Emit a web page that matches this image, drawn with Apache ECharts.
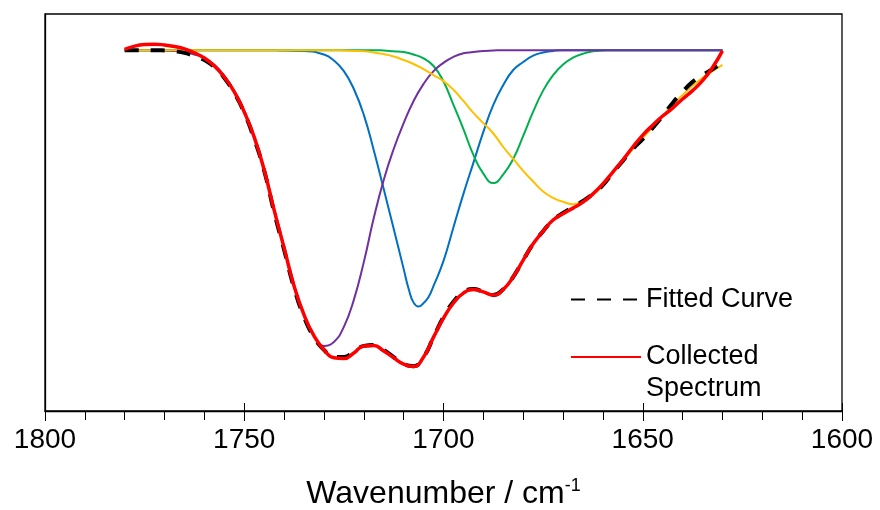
<!DOCTYPE html>
<html>
<head>
<meta charset="utf-8">
<script src="https://cdn.jsdelivr.net/npm/echarts@6/dist/echarts.min.js"></script>
<style>html,body{margin:0;padding:0;background:#fff}#chart{width:880px;height:510px}</style>
</head>
<body>
<div id="chart"></div>
<script>
// Wavenumber grid (cm-1), 1780 down to 1630 in 2.5 steps
var wavenumbers = [];
for (var w = 1780; w >= 1629.9; w -= 2.5) wavenumbers.push(+w.toFixed(1));

var xTicks = [1600, 1650, 1700, 1750, 1800];

// Collected spectrum (red)
var collected = [91.1, 91.9, 92.3, 92.4, 92.2, 91.8, 91.2, 90.2, 88.9, 86.9,
  84.1, 80.4, 75.3, 69.0, 60.7, 50.6, 41.1, 31.5, 24.2, 18.9,
  15.4, 13.4, 13.2, 14.6, 16.4, 16.5, 15.1, 13.4, 11.8, 11.2,
  13.6, 18.6, 23.4, 27.2, 29.7, 30.6, 30.0, 29.2, 30.6, 33.8,
  38.0, 42.1, 45.3, 48.1, 49.7, 51.1, 52.6, 54.7, 57.2, 60.2,
  63.2, 66.5, 69.5, 72.0, 74.3, 76.3, 78.6, 80.7, 83.2, 86.5, 90.7];

// Fitted curve (black dashed)
var fitted = [90.9, 90.9, 90.9, 90.9, 90.8, 90.6, 90.2, 89.4, 88.4, 86.6,
  83.9, 80.1, 75.1, 68.5, 60.5, 50.1, 40.6, 31.0, 23.7, 18.6,
  15.4, 13.6, 13.6, 14.9, 16.4, 16.6, 15.4, 13.6, 11.8, 11.3,
  13.6, 18.6, 23.7, 27.5, 30.0, 30.7, 30.0, 29.2, 30.7, 33.8,
  38.0, 42.1, 45.3, 48.1, 49.9, 51.4, 52.9, 54.7, 56.9, 60.0,
  63.0, 66.0, 68.5, 71.3, 74.3, 77.6, 80.4, 82.9, 84.6, 86.1, 87.7];

// Component bands
var band1730 = [90.9, 90.9, 90.9, 90.9, 90.8, 90.7, 90.4, 89.8, 88.9, 87.2,
  84.4, 80.6, 75.6, 69.0, 61.0, 50.9, 41.3, 31.7, 24.4, 19.1,
  16.4, 17.4, 21.2, 28.0, 37.5, 48.6, 58.2, 66.0, 72.5, 78.1,
  82.4, 85.6, 87.7, 89.2, 90.1, 90.4, 90.7, 90.8, 90.9, 90.9,
  90.9, 90.9, 90.9, 90.9, 90.9, 90.9, 90.9, 90.9, 90.9, 90.9,
  90.9, 90.9, 90.9, 90.9, 90.9, 90.9, 90.9, 90.9, 90.9, 90.9, 90.9];

// Band at ~1707 has its own, finer sampling around its minimum
var wavenumbers1707 = [1780, 1760, 1745, 1740, 1735, 1730, 1727.5, 1725, 1722.5, 1720,
  1717.5, 1715, 1712.5, 1710, 1708.75, 1707.5, 1706.25, 1705, 1703.75, 1702.5,
  1700, 1697.5, 1695, 1692.5, 1690, 1687.5, 1685, 1682.5, 1680, 1677.5,
  1675, 1672.5, 1670, 1650, 1630];
var band1707 = [90.9, 90.9, 90.9, 90.8, 90.7, 89.8, 88.3, 85.6, 81.1, 74.6,
  65.7, 55.9, 45.9, 35.8, 30.8, 27.3, 26.3, 27.2, 28.7, 31.5,
  37.8, 46.3, 54.7, 62.5, 70.3, 77.1, 82.1, 85.9, 87.9, 89.5,
  90.3, 90.7, 90.9, 90.9, 90.9];

var band1687 = [90.9, 90.9, 90.9, 90.9, 90.9, 90.9, 90.9, 90.9, 90.9, 90.9,
  90.9, 90.9, 90.9, 90.9, 90.9, 90.9, 90.9, 90.9, 90.9, 90.9,
  90.9, 90.9, 90.9, 90.9, 90.9, 90.9, 90.8, 90.6, 90.4, 89.8,
  88.8, 86.9, 83.0, 77.1, 71.0, 64.5, 59.8, 57.4, 59.6, 63.5,
  69.3, 75.4, 80.7, 84.6, 87.3, 89.0, 90.0, 90.6, 90.8, 90.9,
  90.9, 90.9, 90.9, 90.9, 90.9, 90.9, 90.9, 90.9, 90.9, 90.9, 90.9];

var band1668 = [90.9, 90.9, 90.9, 90.9, 90.9, 90.9, 90.9, 90.9, 90.9, 90.9,
  90.9, 90.9, 90.9, 90.9, 90.9, 90.9, 90.9, 90.9, 90.9, 90.9,
  90.9, 90.9, 90.8, 90.7, 90.6, 90.3, 89.9, 89.3, 88.4, 87.4,
  86.1, 84.6, 83.1, 80.9, 78.1, 75.1, 72.5, 69.9, 66.5, 63.5,
  60.5, 57.8, 55.3, 53.7, 52.7, 52.1, 52.9, 54.4, 56.9, 60.0,
  63.0, 66.0, 68.8, 71.5, 74.3, 77.1, 79.6, 81.9, 83.9, 85.6, 87.2];

function pairs(vals, xs) {
  xs = xs || wavenumbers;
  return xs.map(function (w, i) { return [w, vals[i]]; });
}

var FONT = '"Liberation Sans", Arial, sans-serif';
var chart = echarts.init(document.getElementById('chart'), null, {renderer: 'canvas'});

function comp(name, color, vals, xs) {
  return {
    name: name, type: 'line', data: pairs(vals, xs), smooth: true,
    showSymbol: false, symbol: 'none',
    lineStyle: {color: color, width: 2}, itemStyle: {color: color},
    z: 2, silent: true
  };
}

chart.setOption({
  animation: false,
  backgroundColor: '#fff',
  grid: {left: 45, right: 38, top: 14, bottom: 99, show: true, containLabel: false,
    outerBoundsMode: 'none',
    borderColor: '#000', borderWidth: 1.3, backgroundColor: 'transparent'},
  xAxis: [{
    type: 'value', min: 1600, max: 1800, interval: 50, inverse: true,
    axisLine: {show: true, lineStyle: {color: '#000', width: 1.3}},
    axisTick: {show: true, inside: false, length: 10, lineStyle: {color: '#000', width: 1}},
    minorTick: {show: true, splitNumber: 5, length: 9, lineStyle: {color: '#000', width: 1}},
    splitLine: {show: false}, minorSplitLine: {show: false},
    axisLabel: {show: true, fontSize: 28, color: '#000', fontFamily: FONT, margin: 15,
      formatter: function (v) { return String(v); }},
    name: 'Wavenumber / cm{sup|-1}', nameLocation: 'middle', nameGap: 66,
    nameTextStyle: {fontSize: 32, color: '#000', fontFamily: FONT,
      rich: {sup: {fontSize: 18, color: '#000', fontFamily: FONT, padding: [0, 0, 16, 0]}}}
  }, {
    type: 'value', min: 1600, max: 1800, interval: 50, inverse: true, position: 'bottom',
    axisLine: {show: false},
    axisTick: {show: true, inside: true, length: 8, lineStyle: {color: '#000', width: 1}},
    axisLabel: {show: false}, splitLine: {show: false}
  }],
  yAxis: {
    type: 'value', min: 0, max: 100,
    axisLine: {show: true, lineStyle: {color: '#000', width: 1.3}},
    axisTick: {show: false}, axisLabel: {show: false}, splitLine: {show: false}
  },
  legend: [{
    data: ['Fitted Curve'], orient: 'vertical', left: 570, top: 286, padding: 0,
    itemWidth: 70, itemHeight: 14, selectedMode: false,
    itemStyle: {opacity: 0},
    textStyle: {fontSize: 27, color: '#000', fontFamily: FONT}
  }, {
    data: ['Collected Spectrum'], orient: 'vertical', left: 570, top: 309, padding: 0,
    itemWidth: 70, itemHeight: 14, selectedMode: false,
    itemStyle: {opacity: 0},
    formatter: function () { return ' \nCollected\nSpectrum'; },
    textStyle: {fontSize: 27, lineHeight: 32, color: '#000', fontFamily: FONT}
  }],
  series: [
    comp('Band 1707', '#0070C0', band1707, wavenumbers1707),
    comp('Band 1687', '#00B050', band1687),
    comp('Band 1730', '#7030A0', band1730),
    comp('Band 1668', '#FFC000', band1668),
    {
      name: 'Fitted Curve', type: 'line', data: pairs(fitted), smooth: true,
      showSymbol: false, symbol: 'none', z: 3,
      lineStyle: {color: '#000', width: 4, type: [14, 12]}, itemStyle: {color: '#000'}
    },
    {
      name: 'Collected Spectrum', type: 'line', data: pairs(collected), smooth: true,
      showSymbol: false, symbol: 'none', z: 4,
      lineStyle: {color: '#FF0000', width: 3.5}, itemStyle: {color: '#FF0000'}
    }
  ]
});
</script>
</body>
</html>
